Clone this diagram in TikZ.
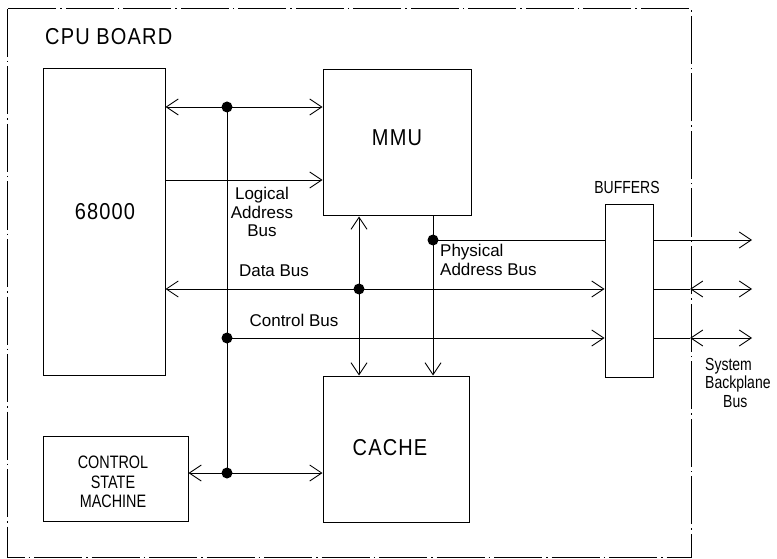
\documentclass[tikz,border=0pt]{standalone}
\usepackage{fontspec}
\setmainfont{Liberation Sans}
\newfontfamily\bigf[FakeStretch=0.87,LetterSpace=5]{Liberation Sans}
\newfontfamily\condf[FakeStretch=0.8]{Liberation Sans}
\usetikzlibrary{arrows.meta}
\begin{document}
\begin{tikzpicture}[x=1pt,y=-1pt,
  box/.style={draw,line width=1pt,inner sep=0pt},
  conn/.style={line width=0.9pt},
  >={Straight Barb[length=12pt,width=16pt,line width=0.9pt]},
  lbl/.style={font=\fontsize{17}{18.5}\selectfont,inner sep=0pt},
  caplbl/.style={font=\condf\fontsize{18}{19.5}\selectfont,inner sep=0pt,align=center},
  condlbl/.style={font=\condf\fontsize{17.5}{18.5}\selectfont,inner sep=0pt},
  big/.style={font=\bigf\fontsize{23}{26}\selectfont,inner sep=0pt},
  board/.style={line width=1pt,dash pattern=on 48pt off 4pt on 1.5pt off 4pt}
]
\useasboundingbox (0,0) rectangle (777,559);
\draw[board] (7,9) rectangle (691,557);
\node[big,anchor=west] (title) at (45,37) {CPU BOARD};

% boxes
\node[box,minimum width=122pt,minimum height=306pt] (cpu) at (104,222) {};
\node[big] (cpulbl) at (105,212) {68000};
\node[box,minimum width=148pt,minimum height=146pt] (mmu) at (397,143) {};
\node[big] (mmulbl) at (397,138) {MMU};
\node[box,minimum width=146pt,minimum height=146pt] (cache) at (396,449) {};
\node[big] (cachelbl) at (390,448) {CACHE};
\node[box,minimum width=48pt,minimum height=172pt] (buf) at (629,291) {};
\node[condlbl] (buflbl) at (627,187) {BUFFERS};
\node[box,minimum width=145pt,minimum height=85pt] (csm) at (115.5,478.5) {};
\node[caplbl] (csmlbl) at (113,482) {CONTROL\\STATE\\MACHINE};

% junctions
\coordinate (j1) at (227,107);
\coordinate (j2) at (227,338);
\coordinate (j3) at (359,289);
\coordinate (j4) at (433,240);
\coordinate (j5) at (227,473);
\coordinate (la) at (227,180);
\coordinate (b1) at (690,289);
\coordinate (b2) at (690,338);
\coordinate (o1) at (752,240);
\coordinate (o2) at (752,289);
\coordinate (o3) at (752,338);

% connectors
\draw[conn] (j1) -- (j5);
\draw[conn,<->] (cpu.east |- j1) -- (mmu.west |- j1);
\draw[conn,->] (cpu.east |- la) -- (mmu.west |- la);
\draw[conn,<->] (cpu.east |- j3) -- (buf.west |- j3);
\draw[conn,<->] (mmu.south -| j3) -- (cache.north -| j3);
\draw[conn,->] (mmu.south -| j4) -- (cache.north -| j4);
\draw[conn] (j4) -- (buf.west |- j4);
\draw[conn,->] (buf.east |- j4) -- (o1);
\draw[conn,->] (j2) -- (buf.west |- j2);
\draw[conn] (buf.east |- j3) -- (b1);
\draw[conn,<->] (b1) -- (o2);
\draw[conn] (buf.east |- j2) -- (b2);
\draw[conn,<->] (b2) -- (o3);
\draw[conn,<->] (csm.east |- j5) -- (cache.west |- j5);

\foreach \j in {j1,j2,j3,j4,j5} \fill (\j) circle (5.5);

% labels
\node[lbl,align=center] (lab) at (262,212) {Logical\\Address\\Bus};
\node[lbl] (dbl) at (274,271) {Data Bus};
\node[lbl] (cbl) at (294,320) {Control Bus};
\node[lbl,align=left,anchor=north west] (pab) at (440,244) {Physical\\Address Bus};
\node[condlbl,align=left,anchor=north west] (sbb) at (705,358) {System\\Backplane\\\hspace*{18pt}Bus};
\end{tikzpicture}
\end{document}
